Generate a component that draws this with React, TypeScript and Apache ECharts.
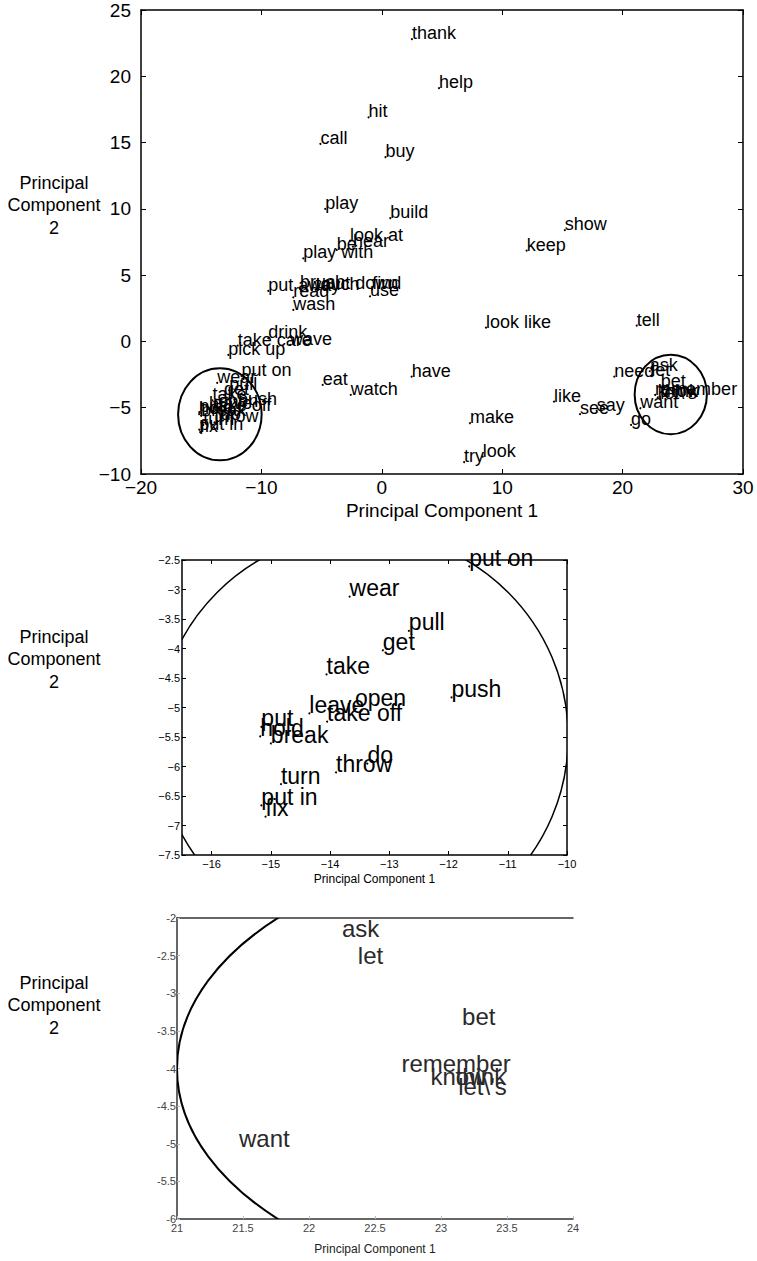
import React, { useEffect, useRef } from "react";
import * as echarts from "echarts";

// Words outside the two circled clusters (top chart only)
const outerWords = [
  "thank", "help", "hit", "call", "buy", "play", "build", "look at", "be", "hear",
  "play with", "show", "keep", "put away", "brush", "touch", "put down", "read", "use", "find",
  "wash", "look like", "tell", "take care", "drink", "wave", "pick up", "have", "eat", "watch",
  "need", "like", "see", "say", "go", "make", "try", "look",
];
const outerX = [
  2.5, 4.75, -1.1, -5.1, 0.3, -4.7, 0.7, -2.64, -3.75, -2.4,
  -6.52, 15.2, 12.03, -9.43, -6.8, -5.5, -4.7, -7.35, -0.98, -0.8,
  -7.35, 8.65, 21.17, -11.97, -9.43, -7.62, -12.75, 2.48, -4.91, -2.58,
  19.31, 14.3, 16.46, 17.85, 20.7, 7.32, 6.83, 8.38,
];
const outerY = [
  22.8, 19.1, 16.9, 14.9, 13.9, 10.0, 9.3, 7.6, 6.9, 7.15,
  6.27, 8.4, 6.85, 3.81, 4.0, 3.9, 3.95, 3.33, 3.4, 3.95,
  2.38, 1.04, 1.2, -0.32, 0.24, -0.26, -1.02, -2.65, -3.28, -4.03,
  -2.65, -4.54, -5.49, -5.24, -6.3, -6.17, -9.11, -8.69,
];

// Left cluster (middle chart)
const leftWords = [
  "put on", "wear", "pull", "get", "take", "push", "open", "leave", "take off",
  "put", "hold", "break", "throw", "do", "turn", "put in", "fix",
];
const leftX = [
  -11.65, -13.67, -12.67, -13.11, -14.06, -11.95, -13.58, -14.35, -14.05,
  -15.16, -15.18, -15.0, -13.9, -13.37, -14.83, -15.16, -15.09,
];
const leftY = [
  -2.61, -3.12, -3.7, -4.03, -4.44, -4.83, -4.98, -5.1, -5.24,
  -5.33, -5.49, -5.61, -6.1, -5.95, -6.3, -6.66, -6.85,
];

// Right cluster (bottom chart)
const rightWords = ["ask", "let", "bet", "remember", "know", "think", "let\\'s", "want"];
const rightX = [22.25, 22.37, 23.16, 22.7, 22.92, 23.11, 23.13, 21.47];
const rightY = [-2.25, -2.61, -3.41, -4.04, -4.21, -4.21, -4.35, -5.04];

// Circles: [centre x, centre y, radius]
const leftCircle = [-13.45, -5.5, 3.47];
const rightCircle = [24, -4, 3];

const midTicks = [-16, -15, -14, -13, -12, -11, -10];

const FONT = "Liberation Sans";

function points(words: string[], xs: number[], ys: number[]) {
  return words.map((w, i) => ({ name: w, value: [xs[i], ys[i]] }));
}

const minus = (v: number) => String(v).replace("-", "\u2212");

function circleSeries(xi: number, data: number[][], lw: number) {
  return {
    type: "custom",
    coordinateSystem: "cartesian2d",
    xAxisIndex: xi,
    yAxisIndex: xi,
    clip: true,
    silent: true,
    data,
    renderItem: (params: any, api: any) => {
      const c = api.coord([api.value(0), api.value(1)]);
      const s = api.size([api.value(2), api.value(2)]);
      return {
        type: "ellipse",
        shape: { cx: c[0], cy: c[1], rx: s[0], ry: s[1] },
        style: { fill: "none", stroke: "#000", lineWidth: lw },
      };
    },
  };
}

function wordSeries(xi: number, data: any[], fontSize: number, dotColor: string, textColor: string) {
  return {
    type: "scatter",
    xAxisIndex: xi,
    yAxisIndex: xi,
    symbol: "circle",
    symbolSize: 2,
    itemStyle: { color: dotColor, opacity: 1 },
    silent: true,
    data,
    label: {
      show: true,
      formatter: "{b}",
      position: [1, 1],
      align: "left",
      verticalAlign: "bottom",
      offset: [0, Math.round(fontSize * 0.15)],
      fontSize,
      fontFamily: FONT,
      color: textColor,
      opacity: 1,
      textBorderWidth: 0,
      textBorderColor: "transparent",
    },
  };
}

export default function App() {
  const ref = useRef<HTMLDivElement>(null);
  useEffect(() => {
    if (!ref.current) return;
    const chart = echarts.init(ref.current, undefined, { renderer: "svg" });

    const lineBlack = { show: true, onZero: false, lineStyle: { color: "#000", width: 1.5 } };
    const mirrorX = (gi: number, min: number, max: number, extra: any) => ({
      type: "value",
      gridIndex: gi,
      position: "top",
      min,
      max,
      axisLine: lineBlack,
      axisLabel: { show: false },
      splitLine: { show: false },
      ...extra,
    });
    const mirrorY = (gi: number, min: number, max: number, extra: any) => ({
      type: "value",
      gridIndex: gi,
      position: "right",
      min,
      max,
      axisLine: lineBlack,
      axisLabel: { show: false },
      splitLine: { show: false },
      ...extra,
    });

    const topTick = { inside: true, length: 5, lineStyle: { color: "#000" } };
    const midTick = { inside: true, length: 4, lineStyle: { color: "#000" }, customValues: midTicks };
    const midYTick = { inside: true, length: 4, lineStyle: { color: "#000" } };
    const botTick = { inside: true, length: 3, lineStyle: { color: "#bbb" } };
    const botLine = { show: true, onZero: false, lineStyle: { color: "#333", width: 1.5 } };

    const option: any = {
      animation: false,
      textStyle: { fontFamily: FONT },
      grid: [
        { left: 141, top: 10, width: 602, height: 464, outerBoundsMode: "none" },
        { left: 182, top: 560, width: 385, height: 295, outerBoundsMode: "none" },
        { left: 177, top: 918, width: 396, height: 301, outerBoundsMode: "none" },
      ],
      xAxis: [
        {
          type: "value", gridIndex: 0, min: -20, max: 30, interval: 10,
          axisLine: lineBlack, axisTick: topTick, splitLine: { show: false },
          axisLabel: { fontSize: 19, color: "#000", margin: 4, formatter: minus },
          name: "Principal Component 1", nameLocation: "middle", nameGap: 27,
          nameTextStyle: { fontSize: 19, color: "#000", fontFamily: FONT },
        },
        mirrorX(0, -20, 30, { interval: 10, axisTick: topTick }),
        {
          type: "value", gridIndex: 1, min: -16.5, max: -10,
          axisLine: lineBlack, axisTick: midTick, splitLine: { show: false },
          axisLabel: { fontSize: 11, color: "#000", margin: 3, formatter: minus, customValues: midTicks },
          name: "Principal Component 1", nameLocation: "middle", nameGap: 18,
          nameTextStyle: { fontSize: 12, color: "#000", fontFamily: FONT },
        },
        mirrorX(1, -16.5, -10, { axisTick: midTick }),
        {
          type: "value", gridIndex: 2, min: 21, max: 24, interval: 0.5,
          axisLine: botLine, axisTick: botTick, splitLine: { show: false },
          axisLabel: { fontSize: 11, color: "#444", margin: 3 },
          name: "Principal Component 1", nameLocation: "middle", nameGap: 24,
          nameTextStyle: { fontSize: 12, color: "#222", fontFamily: FONT },
        },
        {
          type: "value", gridIndex: 2, position: "top", min: 21, max: 24, interval: 0.5,
          axisLine: botLine, axisTick: { show: false }, axisLabel: { show: false }, splitLine: { show: false },
        },
      ],
      yAxis: [
        {
          type: "value", gridIndex: 0, min: -10, max: 25, interval: 5,
          axisLine: lineBlack, axisTick: topTick, splitLine: { show: false },
          axisLabel: { fontSize: 19, color: "#000", margin: 10, formatter: minus },
        },
        mirrorY(0, -10, 25, { interval: 5, axisTick: topTick }),
        {
          type: "value", gridIndex: 1, min: -7.5, max: -2.5, interval: 0.5,
          axisLine: lineBlack, axisTick: midYTick, splitLine: { show: false },
          axisLabel: { fontSize: 11, color: "#000", margin: 2, formatter: minus },
        },
        mirrorY(1, -7.5, -2.5, { interval: 0.5, axisTick: midYTick }),
        {
          type: "value", gridIndex: 2, min: -6, max: -2, interval: 0.5,
          axisLine: botLine, axisTick: botTick, splitLine: { show: false },
          axisLabel: { fontSize: 11, color: "#444", margin: 1 },
        },
        {
          type: "value", gridIndex: 2, position: "right", min: -6, max: -2, interval: 0.5,
          axisLine: { show: false }, axisTick: { show: false }, axisLabel: { show: false }, splitLine: { show: false },
        },
      ],
      graphic: [
        { type: "text", x: 54, y: 205, style: { text: "Principal\nComponent\n2", fontSize: 18, fontFamily: FONT, fill: "#000", align: "center", verticalAlign: "middle", lineHeight: 22.5 } },
        { type: "text", x: 54, y: 659, style: { text: "Principal\nComponent\n2", fontSize: 18, fontFamily: FONT, fill: "#000", align: "center", verticalAlign: "middle", lineHeight: 22.5 } },
        { type: "text", x: 54, y: 1005, style: { text: "Principal\nComponent\n2", fontSize: 18, fontFamily: FONT, fill: "#000", align: "center", verticalAlign: "middle", lineHeight: 22.5 } },
      ],
      series: [
        wordSeries(
          0,
          [
            ...points(outerWords, outerX, outerY),
            ...points(leftWords, leftX, leftY),
            ...points(rightWords, rightX, rightY),
          ],
          18, "#000", "#000"
        ),
        circleSeries(0, [leftCircle, rightCircle], 2),
        wordSeries(2, points(leftWords, leftX, leftY), 23, "#000", "#000"),
        circleSeries(2, [leftCircle], 1.5),
        wordSeries(4, points(rightWords, rightX, rightY), 24, "rgba(0,0,0,0)", "#2a2a2a"),
        circleSeries(4, [rightCircle], 2),
      ],
    };
    chart.setOption(option);
    return () => chart.dispose();
  }, []);
  return (
    <div
      ref={ref}
      style={{ position: "absolute", left: 0, top: 0, width: 757, height: 1261, background: "#fff" }}
    />
  );
}
